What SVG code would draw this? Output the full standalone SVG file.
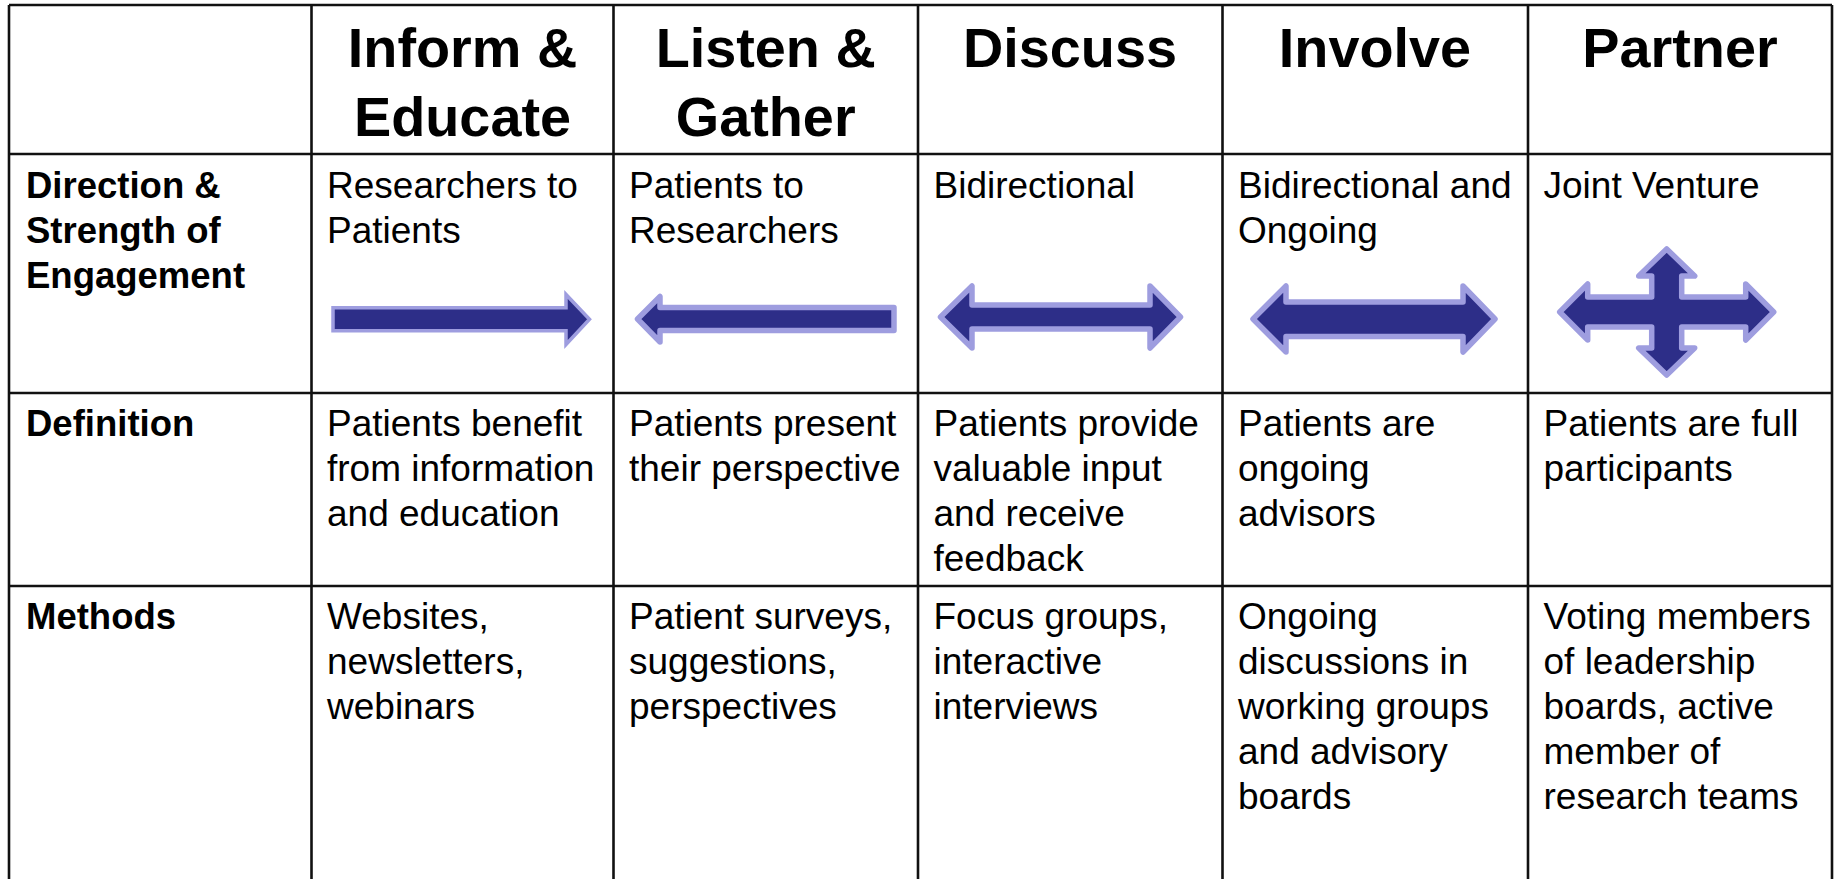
<svg xmlns="http://www.w3.org/2000/svg" width="1837" height="879" viewBox="0 0 1837 879">
<style>
.grid{stroke:#111;stroke-width:2.6;fill:none}
.hd{font-family:"Liberation Sans",Arial,sans-serif;font-weight:bold;font-size:55.8px;fill:#000;text-anchor:middle}
.lb{font-family:"Liberation Sans",Arial,sans-serif;font-weight:bold;font-size:36.5px;fill:#000}
.tx{font-family:"Liberation Sans",Arial,sans-serif;font-size:37px;fill:#000}
.arr{fill:#2D2E88;stroke:#9E9DDF}
</style>
<rect width="1837" height="879" fill="#fff"/>
<g id="grid" class="grid">
<line x1="9" y1="5" x2="1832" y2="5"/>
<line x1="9" y1="154" x2="1832" y2="154"/>
<line x1="9" y1="393" x2="1832" y2="393"/>
<line x1="9" y1="586" x2="1832" y2="586"/>
<line x1="9" y1="5" x2="9" y2="879"/>
<line x1="311.5" y1="5" x2="311.5" y2="879"/>
<line x1="613.5" y1="5" x2="613.5" y2="879"/>
<line x1="918" y1="5" x2="918" y2="879"/>
<line x1="1222.5" y1="5" x2="1222.5" y2="879"/>
<line x1="1528" y1="5" x2="1528" y2="879"/>
<line x1="1832" y1="5" x2="1832" y2="879"/>
</g>
<g id="headers">
<text class="hd" x="462.5" y="67">Inform &amp;</text>
<text class="hd" x="462.5" y="136">Educate</text>
<text class="hd" x="765.7" y="67">Listen &amp;</text>
<text class="hd" x="765.7" y="136">Gather</text>
<text class="hd" x="1070" y="67">Discuss</text>
<text class="hd" x="1375" y="67">Involve</text>
<text class="hd" x="1680" y="67">Partner</text>
</g>
<g id="row-direction">
<text class="lb" x="26" y="198">Direction &amp;</text>
<text class="lb" x="26" y="243">Strength of</text>
<text class="lb" x="26" y="288">Engagement</text>
<text class="tx" x="327" y="198">Researchers to</text>
<text class="tx" x="327" y="243">Patients</text>
<text class="tx" x="629" y="198">Patients to</text>
<text class="tx" x="629" y="243">Researchers</text>
<text class="tx" x="933.5" y="198">Bidirectional</text>
<text class="tx" x="1238" y="198">Bidirectional and</text>
<text class="tx" x="1238" y="243">Ongoing</text>
<text class="tx" x="1543.5" y="198">Joint Venture</text>
</g>
<g id="arrows">
<path id="arrow-inform" class="arr" stroke-width="3.5" d="M333,307.7 H566 V294.5 L589.5,319.3 L566,344.5 V330.7 H333 Z"/>
<path id="arrow-listen" class="arr" stroke-width="5.5" stroke-linejoin="round" d="M637.5,319 L660,296.5 V307.5 H894 V330.5 H660 V342 Z"/>
<path id="arrow-discuss" class="arr" stroke-width="5.5" stroke-linejoin="round" d="M940.5,317 L972,286 V305 H1150 V286 L1180.5,317 L1150,348 V329 H972 V348 Z"/>
<path id="arrow-involve" class="arr" stroke-width="5.5" stroke-linejoin="round" d="M1253,319 L1286,286 V302 H1463 V286 L1495,319 L1463,352 V336.5 H1286 V352 Z"/>
<path id="arrow-partner" class="arr" stroke-width="5.5" stroke-linejoin="round" d="M1559.7,312 L1587.7,284 V297 H1651.7 V276 H1638.7 L1666.7,249 L1694.7,276 H1681.7 V297 H1745.7 V284 L1773.7,312 L1745.7,340 V327 H1681.7 V348 H1694.7 L1666.7,375 L1638.7,348 H1651.7 V327 H1587.7 V340 Z"/>
</g>
<g id="row-definition">
<text class="lb" x="26" y="436">Definition</text>
<text class="tx" x="327" y="436">Patients benefit</text>
<text class="tx" x="327" y="481">from information</text>
<text class="tx" x="327" y="526">and education</text>
<text class="tx" x="629" y="436">Patients present</text>
<text class="tx" x="629" y="481">their perspective</text>
<text class="tx" x="933.5" y="436">Patients provide</text>
<text class="tx" x="933.5" y="481">valuable input</text>
<text class="tx" x="933.5" y="526">and receive</text>
<text class="tx" x="933.5" y="571">feedback</text>
<text class="tx" x="1238" y="436">Patients are</text>
<text class="tx" x="1238" y="481">ongoing</text>
<text class="tx" x="1238" y="526">advisors</text>
<text class="tx" x="1543.5" y="436">Patients are full</text>
<text class="tx" x="1543.5" y="481">participants</text>
</g>
<g id="row-methods">
<text class="lb" x="26" y="629">Methods</text>
<text class="tx" x="327" y="629">Websites,</text>
<text class="tx" x="327" y="674">newsletters,</text>
<text class="tx" x="327" y="719">webinars</text>
<text class="tx" x="629" y="629">Patient surveys,</text>
<text class="tx" x="629" y="674">suggestions,</text>
<text class="tx" x="629" y="719">perspectives</text>
<text class="tx" x="933.5" y="629">Focus groups,</text>
<text class="tx" x="933.5" y="674">interactive</text>
<text class="tx" x="933.5" y="719">interviews</text>
<text class="tx" x="1238" y="629">Ongoing</text>
<text class="tx" x="1238" y="674">discussions in</text>
<text class="tx" x="1238" y="719">working groups</text>
<text class="tx" x="1238" y="764">and advisory</text>
<text class="tx" x="1238" y="809">boards</text>
<text class="tx" x="1543.5" y="629">Voting members</text>
<text class="tx" x="1543.5" y="674">of leadership</text>
<text class="tx" x="1543.5" y="719">boards, active</text>
<text class="tx" x="1543.5" y="764">member of</text>
<text class="tx" x="1543.5" y="809">research teams</text>
</g>
</svg>
